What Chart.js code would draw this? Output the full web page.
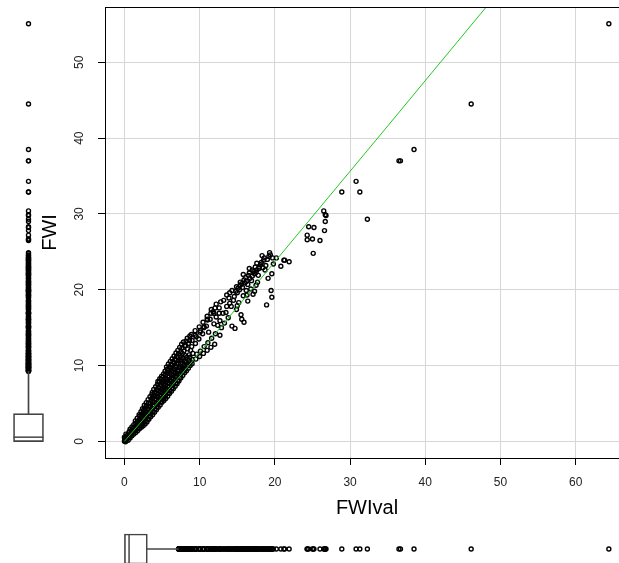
<!DOCTYPE html>
<html>
<head>
<meta charset="utf-8">
<script src="https://cdn.jsdelivr.net/npm/chart.js@4"></script>
<style>
html, body { margin: 0; padding: 0; background: #fff; overflow: hidden; width: 619px; height: 563px; }
canvas { position: absolute; }
</style>
</head>
<body>
<canvas id="main" width="640" height="520" style="left:0;top:0"></canvas>
<canvas id="boxY" width="57" height="520" style="left:0;top:0"></canvas>
<canvas id="boxX" width="640" height="58" style="left:0;top:520px"></canvas>
<script>
const coreCloud = [
  [0,0],[0.05,0.2],[0.1,0.45],[0.2,0.1],[0.3,0.35],[0,0.55],[0.15,-0.05],
  [0.5,0.15],[0.55,0.5],[0.45,0.85],[0.6,1.2],
  [1.0,0.75],[0.95,1.1],[1.05,1.5],[1.0,1.9],
  [1.5,1.15],[1.45,1.55],[1.55,2.0],[1.5,2.4],[1.45,2.7],
  [2.0,1.65],[2.05,2.05],[1.95,2.45],[2.0,2.9],[2.05,3.3],[1.95,3.5],
  [2.5,2.05],[2.45,2.45],[2.55,2.9],[2.5,3.3],[2.45,3.75],[2.55,4.1],[2.4,4.3],
  [3.0,2.55],[3.05,2.95],[2.95,3.4],[3.0,3.85],[3.05,4.3],[2.95,4.7],[2.9,5.1],
  [3.5,3.25],[3.45,3.65],[3.55,4.1],[3.5,4.55],[3.45,5.0],[3.55,5.45],[3.4,5.9],
  [4.0,3.85],[4.05,4.25],[3.95,4.7],[4.0,5.15],[4.05,5.6],[3.95,6.05],[4.0,6.45],[3.9,6.85],
  [4.5,4.5],[4.45,4.9],[4.55,5.35],[4.5,5.8],[4.45,6.25],[4.55,6.7],[4.5,7.15],[4.4,7.55],[4.45,7.9],
  [5.0,5.15],[5.05,5.55],[4.95,6.0],[5.0,6.45],[5.05,6.9],[4.95,7.35],[5.0,7.8],[4.9,8.2],[4.95,8.6],
  [5.5,5.65],[5.45,6.05],[5.55,6.5],[5.5,6.95],[5.45,7.4],[5.55,7.85],[5.5,8.3],[5.45,8.75],[5.4,9.25],
  [6.0,6.3],[6.05,6.7],[5.95,7.15],[6.0,7.6],[6.05,8.05],[5.95,8.5],[6.0,8.95],[5.9,9.4],[5.95,9.8],[5.85,10.2],
  [6.5,6.95],[6.45,7.35],[6.55,7.8],[6.5,8.25],[6.45,8.7],[6.55,9.15],[6.5,9.6],[6.4,10.05],[6.45,10.5],[6.35,10.9],
  [7.0,7.6],[7.05,8.0],[6.95,8.45],[7.0,8.9],[7.05,9.35],[6.95,9.8],[7.0,10.25],[6.9,10.7],[6.95,11.2],[6.85,11.65]
];
const coreFill = [
  [0.25,0.25],[0.3,0.7],[0.2,0.95],
  [0.75,0.45],[0.8,0.85],[0.7,1.3],[0.75,1.6],
  [1.25,0.95],[1.3,1.35],[1.2,1.75],[1.25,2.2],
  [1.75,1.4],[1.8,1.8],[1.7,2.25],[1.75,2.65],[1.7,3.05],
  [2.25,1.85],[2.3,2.25],[2.2,2.7],[2.25,3.1],[2.3,3.5],[2.2,3.9],
  [2.75,2.3],[2.8,2.7],[2.7,3.15],[2.75,3.55],[2.8,3.95],[2.7,4.4],[2.65,4.75],
  [3.25,2.9],[3.3,3.3],[3.2,3.75],[3.25,4.2],[3.3,4.65],[3.2,5.05],[3.15,5.5],
  [3.75,3.5],[3.8,3.9],[3.7,4.35],[3.75,4.8],[3.8,5.25],[3.7,5.7],[3.65,6.15],[3.7,6.45],
  [4.25,4.15],[4.3,4.55],[4.2,5.0],[4.25,5.45],[4.3,5.9],[4.2,6.35],[4.25,6.8],[4.15,7.2],
  [4.75,4.8],[4.8,5.2],[4.7,5.65],[4.75,6.1],[4.8,6.55],[4.7,7.0],[4.75,7.45],[4.65,7.9],[4.7,8.25],
  [5.25,5.4],[5.3,5.8],[5.2,6.25],[5.25,6.7],[5.3,7.15],[5.2,7.6],[5.25,8.05],[5.15,8.5],[5.2,8.9],
  [5.75,5.95],[5.8,6.35],[5.7,6.8],[5.75,7.25],[5.8,7.7],[5.7,8.15],[5.75,8.6],[5.65,9.05],[5.7,9.5],[5.6,9.8],
  [6.25,6.6],[6.3,7.0],[6.2,7.45],[6.25,7.9],[6.3,8.35],[6.2,8.8],[6.25,9.25],[6.15,9.7],[6.2,10.1],[6.1,10.55],
  [6.75,7.25],[6.8,7.65],[6.7,8.1],[6.75,8.55],[6.8,9.0],[6.7,9.45],[6.75,9.9],[6.65,10.35],[6.7,10.8],[6.6,11.25],
  [7.25,7.95],[7.3,8.4],[7.2,8.85],[7.25,9.3],[7.3,9.75],[7.2,10.2],[7.25,10.65],[7.15,11.1],[7.2,11.55],[7.1,12.0],
  [7.75,8.7],[7.8,9.2],[7.7,9.7],[7.75,10.3],[7.8,11.0],[7.7,11.6],[7.65,12.3],[7.6,12.8],
  [8.25,9.3],[8.3,9.9],[8.2,10.4],[8.3,11.1],[8.15,12.6],[8.2,13.2],
  [8.75,10.0],[8.8,10.5],[8.7,11.1],[8.8,12.0],[8.65,13.3],[8.7,13.9]
];
const upperCloud = [
  [7.5,8.35],[7.45,8.8],[7.55,9.3],[7.5,9.8],[7.45,10.3],[7.55,10.8],[7.4,11.3],[7.5,11.8],[7.35,12.4],
  [8.0,9.05],[8.05,9.5],[7.95,10.0],[8.0,10.6],[8.1,11.3],[7.9,11.9],[8.0,12.6],[7.85,13.1],
  [8.5,9.65],[8.45,10.1],[8.55,10.7],[8.6,11.4],[8.4,12.2],[8.5,12.9],[8.35,13.6],
  [9.0,10.25],[9.05,10.8],[9.1,11.6],[8.95,12.5],[9.0,13.3],[8.9,14.1],
  [9.5,10.85],[9.6,11.5],[9.45,12.9],[9.55,13.8],[9.4,14.6],
  [10.0,11.2],[10.1,11.9],[9.9,13.5],[10.05,14.4],[9.95,15.1],
  [10.5,11.6],[10.6,12.5],[10.4,14.2],[10.55,15.0],[10.45,15.7],
  [11.0,12.0],[11.1,13.0],[10.9,15.2],[11.05,16.0],[11.0,16.5],
  [11.5,12.4],[11.6,13.6],[11.4,16.1],[11.5,16.9],[11.55,17.4],
  [12.0,12.8],[12.1,14.2],[11.9,16.9],[12.05,17.6],[12.2,18.1],
  [12.9,15.0],[13.3,15.6],[13.8,16.3],[13.1,16.9],[12.4,15.3],[13.6,17.8],[14.0,18.2],
  [9.4,14.0],[10.1,14.6],[10.6,15.1],[11.2,14.4],[11.0,16.1],[11.8,17.1],[12.6,17.6],[12.6,16.9],
  [12.2,16.4],[12.7,15.9],[11.9,15.5],[12.7,14.0],[13.2,18.6],[12.8,18.4],[13.6,19.3],[14.5,18.6],
  [13.5,17.0],[14.2,17.8],[14.9,17.4],[15.5,16.7],[15.6,16.1],[15.9,15.7],[14.3,15.2],[14.7,14.9],
  [14.3,19.9],[14.9,20.4],[15.4,21.0],[15.4,20.6],[15.8,19.2],[16.3,19.3],[16.1,21.6],[16.5,21.9],
  [16.9,21.2],[17.3,22.1],[17.5,22.3],[17.8,21.9],[17.7,21.0],[17.5,20.6],[17.3,19.8],
  [15.0,19.6],[16.8,20.1],[17.0,22.6],[16.6,22.8],[18.1,23.3],[17.9,22.8],[18.3,24.5],[15.7,20.3],
  [16.0,20.9],[14.0,19.6],[13.9,18.9],[15.2,18.3],[16.4,18.5],[17.1,19.4],[15.0,17.9],[19.1,21.5],
  [18.7,22.6],[20.2,24.2],[19.8,23.4],
  [14.6,19.1],[14.8,19.8],[15.1,20.2],[15.3,20.0],[15.6,20.8],[15.9,21.3],[16.2,21.1],[16.4,20.7],
  [16.7,21.5],[17.0,21.8],[17.2,22.4],[17.6,22.6],[17.9,23.0],[18.2,23.6],[18.4,22.9],[18.8,23.2],
  [19.0,24.0],[19.4,24.6],[19.7,24.2],[16.2,19.9],[17.6,23.5],[18.6,24.2],[15.8,22.0],[16.6,22.2],
  [17.4,23.0]
];
const sparseTail = [
  [18.5,23.9],[19.2,24.4],[19.3,24.9],[19.6,22.1],[19.5,19.9],[19.6,19.0],[18.9,18.0],
  [20.8,23.1],[21.2,23.9],[21.9,23.7],[21.3,23.9],
  [25.1,24.8],[24.3,26.6],[25.0,26.7],[26.0,26.5],[24.3,27.2],[26.6,27.8],[24.5,28.3],[25.2,28.2],
  [26.7,29.0],[26.7,29.9],[26.8,29.8],[26.5,30.4],[32.3,29.3],[28.9,32.9],[31.3,32.9],[30.8,34.3],
  [36.5,37.0],[36.7,37.0],[38.5,38.5],[46.1,44.5],[64.4,55.1]
];
// green reference curve
const fitLine = [[0,0],[2,2.3],[5,5.8],[10,11.7],[20,23.7],[34,40.4],[48.1,57.3],[50,59.6]];
// boxplot stats: min, q1, median, q3, upper whisker
const fwiBox = [-0.05, -0.05, 0.55, 3.65, 9.2];
const fwivalBox = [0.0, 0.0, 0.62, 3.05, 7.17];
const xTicks = [0, 10, 20, 30, 40, 50, 60];
const yTicks = [0, 10, 20, 30, 40, 50];

const xLim = [-2.58, 67.08];
const yLim = [-2.2, 57.3];

const allPairs = [...coreCloud, ...coreFill, ...upperCloud, ...sparseTail];
const outY = allPairs.map(p => p[1]).filter(v => v > fwiBox[4]);
const outX = allPairs.map(p => p[0]).filter(v => v > fwivalBox[4]);

const font = '"Liberation Sans", Arial, sans-serif';
const boxCol = '#444';
const ptStyle = {pointRadius: 2, pointBorderWidth: 1.4, pointBorderColor: '#000', pointBackgroundColor: 'rgba(0,0,0,0)'};

const framePlugin = {
  id: 'frame',
  afterDraw(chart) {
    const {ctx, chartArea: a} = chart;
    ctx.save();
    ctx.strokeStyle = '#000';
    ctx.lineWidth = 1;
    ctx.strokeRect(Math.round(a.left) + 0.5, Math.round(a.top) + 0.5, a.right - a.left, a.bottom - a.top);
    // rotated y tick labels, R style
    const s = chart.scales.y;
    ctx.fillStyle = '#222';
    ctx.font = '12px ' + font;
    ctx.textAlign = 'center';
    ctx.textBaseline = 'middle';
    yTicks.forEach(v => {
      ctx.save();
      ctx.translate(80, s.getPixelForValue(v));
      ctx.rotate(-Math.PI / 2);
      ctx.fillText(String(v), 0, 0);
      ctx.restore();
    });
    ctx.restore();
  }
};

new Chart(document.getElementById('main'), {
  type: 'scatter',
  data: {
    datasets: [
      {
        data: fitLine.map(p => ({x: p[0], y: p[1]})),
        showLine: true, borderColor: '#22c722', borderWidth: 1, pointRadius: 0, tension: 0
      },
      Object.assign({data: allPairs.map(p => ({x: p[0], y: p[1]}))}, ptStyle)
    ]
  },
  options: {
    responsive: false, animation: false,
    layout: {padding: {top: 7, right: 11, left: 0, bottom: 0}},
    plugins: {legend: {display: false}, tooltip: {enabled: false}},
    scales: {
      x: {
        min: xLim[0], max: xLim[1],
        afterBuildTicks: s => { s.ticks = xTicks.map(v => ({value: v})); },
        afterFit: s => { s.height = 62; },
        grid: {color: '#d6d6d6', lineWidth: 1, tickColor: '#000', tickLength: 7},
        border: {display: false},
        ticks: {color: '#222', font: {family: font, size: 12}, padding: 10, maxRotation: 0},
        title: {display: true, text: 'FWIval', color: '#000', font: {family: font, size: 20}, padding: 0}
      },
      y: {
        min: yLim[0], max: yLim[1],
        afterBuildTicks: s => { s.ticks = yTicks.map(v => ({value: v})); },
        afterFit: s => { s.width = 105; },
        grid: {color: '#d6d6d6', lineWidth: 1, tickColor: '#000', tickLength: 7},
        border: {display: false},
        ticks: {display: false},
        title: {display: true, text: 'FWI', color: '#000', font: {family: font, size: 20}, padding: {top: 38, bottom: 0}}
      }
    }
  },
  plugins: [framePlugin]
});

function medianPlugin(stats, horizontal) {
  return {
    id: 'median',
    afterDatasetsDraw(chart) {
      const bar = chart.getDatasetMeta(1).data[0];
      const ctx = chart.ctx;
      ctx.save();
      ctx.strokeStyle = boxCol;
      ctx.lineWidth = 1.5;
      ctx.beginPath();
      if (horizontal) {
        const x = chart.scales.x.getPixelForValue(stats[2]);
        ctx.moveTo(x, bar.y - bar.height / 2);
        ctx.lineTo(x, bar.y + bar.height / 2);
      } else {
        const y = chart.scales.y.getPixelForValue(stats[2]);
        ctx.moveTo(bar.x - bar.width / 2, y);
        ctx.lineTo(bar.x + bar.width / 2, y);
      }
      ctx.stroke();
      ctx.restore();
    }
  };
}

// vertical boxplot of FWI
new Chart(document.getElementById('boxY'), {
  type: 'bar',
  data: {
    labels: ['FWI'],
    datasets: [
      {data: [[fwiBox[3], fwiBox[4]]], backgroundColor: boxCol, barThickness: 1, grouped: false},
      {data: [[fwiBox[1], fwiBox[3]]], backgroundColor: 'rgba(0,0,0,0)', borderColor: boxCol,
       borderWidth: 1, borderSkipped: false, barThickness: 30, grouped: false},
      Object.assign({type: 'line', data: outY.map(v => ({x: 'FWI', y: v})), showLine: false}, ptStyle)
    ]
  },
  options: {
    responsive: false, animation: false,
    layout: {padding: {top: 7, bottom: 62, left: 0, right: 0}},
    plugins: {legend: {display: false}, tooltip: {enabled: false}},
    scales: {
      x: {display: false},
      y: {display: false, min: yLim[0], max: yLim[1]}
    }
  },
  plugins: [medianPlugin(fwiBox, false)]
});

// horizontal boxplot of FWIval
new Chart(document.getElementById('boxX'), {
  type: 'bar',
  data: {
    labels: ['FWIval'],
    datasets: [
      {data: [[fwivalBox[3], fwivalBox[4]]], backgroundColor: boxCol, barThickness: 1, grouped: false},
      {data: [[fwivalBox[1], fwivalBox[3]]], backgroundColor: 'rgba(0,0,0,0)', borderColor: boxCol,
       borderWidth: 1, borderSkipped: false, barThickness: 30, grouped: false},
      Object.assign({type: 'line', data: outX.map(v => ({x: v, y: 'FWIval'})), showLine: false}, ptStyle)
    ]
  },
  options: {
    indexAxis: 'y',
    responsive: false, animation: false,
    layout: {padding: {top: 0, bottom: 0, left: 105, right: 11}},
    plugins: {legend: {display: false}, tooltip: {enabled: false}},
    scales: {
      x: {display: false, min: xLim[0], max: xLim[1]},
      y: {display: false}
    }
  },
  plugins: [medianPlugin(fwivalBox, true)]
});
</script>
</body>
</html>
